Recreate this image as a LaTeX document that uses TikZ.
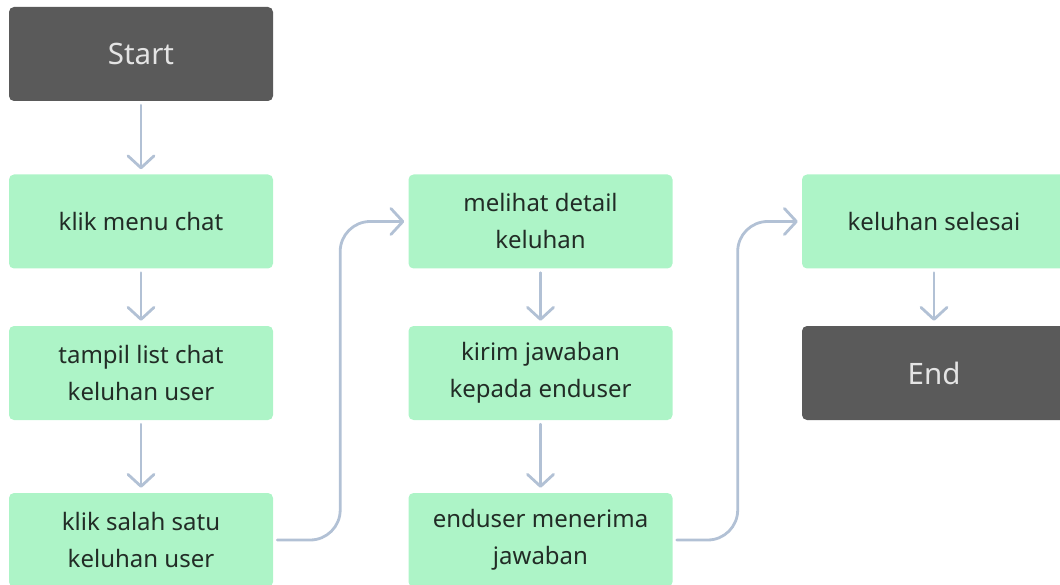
\documentclass[tikz,border=0pt]{standalone}
\usepackage{fontspec}
\setmainfont{Noto Sans}
\usetikzlibrary{arrows.meta}
\definecolor{stepgreen}{HTML}{ADF4C7}
\definecolor{termgray}{HTML}{5A5A5A}
\definecolor{linkblue}{HTML}{B2C1D5}
\definecolor{inkdark}{HTML}{222C26}
\definecolor{inklight}{HTML}{E4E4E4}
\tikzset{
  stepbox/.style={fill=stepgreen, rounded corners=5pt, minimum width=264pt,
    minimum height=94pt, inner sep=0pt, align=center, text=inkdark,
    font=\fontsize{24pt}{37pt}\selectfont},
  termbox/.style={fill=termgray, rounded corners=5pt, minimum width=264pt,
    minimum height=94pt, inner sep=0pt, align=center, text=inklight,
    font=\fontsize{29.5pt}{34pt}\selectfont},
  flow/.style={draw=linkblue, line width=2.8pt, line cap=round,
    -{Straight Barb[length=12pt, width=26pt, line width=2.8pt, round]}},
}
\begin{document}
\begin{tikzpicture}[x=1pt, y=-1pt]
  \useasboundingbox (0,0) rectangle (1060,585);
  \clip (0,0) rectangle (1060,585);
  % first column
  \node[termbox] (start) at (141,54) {Start};
  \node[stepbox] (menu) at (141,221.5) {klik menu chat};
  \node[stepbox] (list) at (141,373) {tampil list chat\\keluhan user};
  \node[stepbox] (pick) at (141,540) {klik salah satu\\keluhan user};
  % second column
  \node[stepbox] (detail) at (540.5,221.5) {melihat detail\\keluhan};
  \node[stepbox] (reply) at (540.5,373) {kirim jawaban\\kepada enduser};
  \node[stepbox] (recv) at (540.5,540) {enduser menerima\\jawaban};
  % third column
  \node[stepbox] (done) at (934,221.5) {keluhan selesai};
  \node[termbox] (finish) at (934,373) {End};
  % vertical links
  \draw[flow] ([yshift=-4pt]start.south) -- ([yshift=5pt]menu.north);
  \draw[flow] ([yshift=-4pt]menu.south) -- ([yshift=5pt]list.north);
  \draw[flow] ([yshift=-4pt]list.south) -- ([yshift=5pt]pick.north);
  \draw[flow] ([yshift=-4pt]detail.south) -- ([yshift=5pt]reply.north);
  \draw[flow] ([yshift=-4pt]reply.south) -- ([yshift=5pt]recv.north);
  \draw[flow] ([yshift=-4pt]done.south) -- ([yshift=5pt]finish.north);
  % elbow links between columns
  \draw[flow, rounded corners=30pt] ([xshift=4pt]pick.east) -- ++(63,0) |- ([xshift=-4pt]detail.west);
  \draw[flow, rounded corners=30pt] ([xshift=4pt]recv.east) -- ++(61,0) |- ([xshift=-4pt]done.west);
\end{tikzpicture}
\end{document}
